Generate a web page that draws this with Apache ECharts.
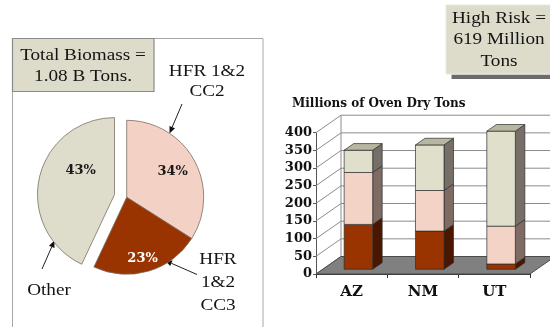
<!DOCTYPE html>
<html>
<head>
<meta charset="utf-8">
<script src="https://cdn.jsdelivr.net/npm/echarts@6/dist/echarts.min.js"></script>
<style>
  html, body { margin: 0; padding: 0; background: #ffffff; }
  #chart { width: 550px; height: 327px; }
</style>
</head>
<body>
<div id="chart"></div>
<script>
// ---------------- data ----------------
const categories = ['AZ', 'NM', 'UT'];
const cc3Values = [127, 108, 15];    // HFR 1&2 CC3 (bottom, dark red)
const cc2Values = [147, 115, 107];   // HFR 1&2 CC2 (middle, pink)
const otherValues = [63, 129, 269];  // Other (top, beige)
const yTicks = [0, 50, 100, 150, 200, 250, 300, 350, 400];

const pieNames = ['HFR 1&2 CC2', 'HFR 1&2 CC3', 'Other'];
const pieShares = [34, 23, 43];

const chartTitle = 'Millions of Oven Dry Tons';
const totalText = 'Total Biomass =\n1.08 B Tons.';
const riskText = 'High Risk =\n619 Million\nTons';
// --------------------------------------

const SERIF = '"DejaVu Serif", "Liberation Serif", serif';
const TIMES = '"Liberation Serif", serif';
const DX = 25, DY = -17.5;      // oblique depth of the 3D box
const F0 = 0.27, F1 = 0.65;     // bar depth fraction (front / back)
const BAR_FRAC = 0.4;
const EDGE = '#2e2e2e';

const palette = {
  cc3: { front: '#993300', side: '#4a1600', top: '#6b2400' },
  cc2: { front: '#f2d3c6', side: '#7e6b64', top: '#bba59c' },
  other: { front: '#dfdfcc', side: '#766e69', top: '#b7b6a0' }
};

function barRender(colors, drawTop) {
  return function (params, api) {
    const i = api.value(0), b = api.value(1), t = api.value(2);
    const pb = api.coord([i, b]);
    const pt = api.coord([i, t]);
    const cw = api.size([1, 0])[0];
    const w = cw * BAR_FRAC;
    const ox = DX * F0, oy = DY * F0;
    const sx = DX * (F1 - F0), sy = DY * (F1 - F0);
    const x0 = pb[0] - w / 2 + ox, x1 = x0 + w;
    const yb = pb[1] + oy, yt = pt[1] + oy;
    const children = [
      { type: 'polygon', shape: { points: [[x1, yb], [x1 + sx, yb + sy], [x1 + sx, yt + sy], [x1, yt]] },
        style: { fill: colors.side, stroke: EDGE, lineWidth: 0.7 } },
      { type: 'rect', shape: { x: x0, y: yt, width: w, height: yb - yt },
        style: { fill: colors.front, stroke: EDGE, lineWidth: 0.7 } }
    ];
    if (drawTop) {
      children.push({ type: 'polygon', shape: { points: [[x0, yt], [x1, yt], [x1 + sx, yt + sy], [x0 + sx, yt + sy]] },
        style: { fill: colors.top, stroke: EDGE, lineWidth: 0.7 } });
    }
    return { type: 'group', children: children };
  };
}

function frameRender(params, api) {
  const cs = params.coordSys;
  const xl = cs.x, xr = cs.x + cs.width;
  const y0 = api.coord([0, yTicks[0]])[1];
  const yTop = api.coord([0, yTicks[yTicks.length - 1]])[1];
  const children = [];
  yTicks.forEach(function (v) {
    const y = api.coord([0, v])[1];
    children.push({ type: 'line', shape: { x1: xl, y1: y, x2: xl + DX, y2: y + DY },
      style: { stroke: '#8c8c8c', lineWidth: 1 } });
    children.push({ type: 'line', shape: { x1: xl + DX, y1: y + DY, x2: xr + DX + 10, y2: y + DY },
      style: { stroke: '#8c8c8c', lineWidth: 1 } });
  });
  children.push({ type: 'line', shape: { x1: xl + DX, y1: y0 + DY, x2: xl + DX, y2: yTop + DY },
    style: { stroke: '#8c8c8c', lineWidth: 1 } });
  children.push({ type: 'polygon', shape: { points: [[xl, y0], [xr, y0], [xr + DX, y0 + DY], [xl + DX, y0 + DY]] },
    style: { fill: '#808080', stroke: '#4a4a4a', lineWidth: 1 } });
  return { type: 'group', children: children };
}

const cc2Base = cc3Values.map(function (v) { return v; });
const otherBase = cc3Values.map(function (v, i) { return v + cc2Values[i]; });

function stackData(base, vals) {
  return vals.map(function (v, i) { return [i, base[i], base[i] + v]; });
}

function arrow(x1, y1, x2, y2) {
  const ang = Math.atan2(y2 - y1, x2 - x1);
  const L = 7, H = 3;
  const bx = x2 - L * Math.cos(ang), by = y2 - L * Math.sin(ang);
  const px = -Math.sin(ang) * H, py = Math.cos(ang) * H;
  return {
    type: 'group',
    z: 12,
    children: [
      { type: 'line', shape: { x1: x1, y1: y1, x2: bx, y2: by }, style: { stroke: '#222', lineWidth: 1 } },
      { type: 'polygon', shape: { points: [[x2, y2], [bx + px, by + py], [bx - px, by - py]] }, style: { fill: '#111' } }
    ]
  };
}

function note(text, x, y, lh) {
  return {
    type: 'text', z: 11, x: x, y: y, scaleX: 1.2,
    style: { text: text, x: 0, y: 0, textAlign: 'center', textVerticalAlign: 'middle',
      font: '16px ' + TIMES, lineHeight: lh, fill: '#141414' }
  };
}

const pieColors = ['#f3d2c5', '#993300', '#deddcc'];
const pieLabelColors = ['#1a1a1a', '#ffffff', '#1a1a1a'];
const pieLabelShift = [[9.6, -6.1], [4.3, 21.4], [6.6, -14.4]];

const chart = echarts.init(document.getElementById('chart'), null, { renderer: 'canvas' });

const option = {
  animation: false,
  backgroundColor: '#ffffff',
  title: {
    text: chartTitle,
    left: 287,
    top: 93,
    textStyle: { fontFamily: SERIF, fontWeight: 'bold', fontSize: 12, color: '#111' }
  },
  grid: { left: 316, right: 20, top: 132.7, bottom: 53, containLabel: false },
  xAxis: {
    type: 'category',
    data: categories,
    boundaryGap: true,
    axisLine: { show: true, lineStyle: { color: '#333', width: 1 } },
    axisTick: { show: true, length: 4, interval: 0, lineStyle: { color: '#333' } },
    axisLabel: { margin: 11, fontFamily: SERIF, fontWeight: 'bold', fontSize: 15, color: '#111' },
    splitLine: { show: false }
  },
  yAxis: {
    type: 'value',
    min: yTicks[0],
    max: yTicks[yTicks.length - 1],
    interval: yTicks[1] - yTicks[0],
    axisLine: { show: true, lineStyle: { color: '#555', width: 1 } },
    axisTick: { show: true, length: 3, lineStyle: { color: '#555' } },
    axisLabel: { margin: 4, fontFamily: SERIF, fontWeight: 'bold', fontSize: 13, color: '#111' },
    splitLine: { show: false }
  },
  series: [
    {
      type: 'custom', name: 'frame', z: 1, silent: true,
      data: [[0, 0]],
      renderItem: frameRender
    },
    {
      type: 'custom', name: 'HFR 1&2 CC3', z: 2, silent: true,
      data: stackData(cc3Values.map(function () { return 0; }), cc3Values),
      renderItem: barRender(palette.cc3, false)
    },
    {
      type: 'custom', name: 'HFR 1&2 CC2', z: 3, silent: true,
      data: stackData(cc2Base, cc2Values),
      renderItem: barRender(palette.cc2, false)
    },
    {
      type: 'custom', name: 'Other', z: 4, silent: true,
      data: stackData(otherBase, otherValues),
      renderItem: barRender(palette.other, true)
    },
    {
      type: 'pie',
      z: 5,
      silent: true,
      center: [126.7, 197.3],
      radius: 77,
      startAngle: 90,
      clockwise: true,
      selectedMode: 'single',
      selectedOffset: 12.5,
      emphasis: { disabled: true },
      itemStyle: { borderColor: '#7d6d63', borderWidth: 0.8 },
      label: {
        show: true,
        position: 'inside',
        fontFamily: SERIF,
        fontWeight: 'bold',
        fontSize: 13,
        formatter: function (p) { return p.value + '%'; }
      },
      labelLine: { show: false },
      labelLayout: function (p) {
        const s = pieLabelShift[p.dataIndex];
        return { dx: s[0], dy: s[1] };
      },
      data: pieShares.map(function (v, i) {
        const item = {
          name: pieNames[i],
          value: v,
          itemStyle: { color: pieColors[i] },
          label: { color: pieLabelColors[i] }
        };
        if (i === 2) {
          item.selected = true;
          item.select = { itemStyle: { color: pieColors[i], borderColor: '#7d6d63', borderWidth: 0.8 } };
        }
        return item;
      })
    }
  ],
  graphic: [
    { type: 'rect', z: 0, shape: { x: 12.5, y: 38.5, width: 250.5, height: 300 },
      style: { fill: 'none', stroke: '#a8a8a8', lineWidth: 1 } },
    { type: 'rect', z: 10, shape: { x: 12.5, y: 38.5, width: 141.5, height: 53 },
      style: { fill: '#dddccb', stroke: '#8a8a8a', lineWidth: 1.2 } },
    note(totalText, 83, 66.5, 21.5),
    note('HFR 1&2\nCC2', 207, 82, 19.5),
    note('HFR\n1&2\nCC3', 218, 283, 23),
    note('Other', 49, 291, 20),
    arrow(182, 104, 169.5, 133.5),
    arrow(197, 274.5, 165, 260.5),
    arrow(42, 269, 54.5, 240.5),
    { type: 'rect', z: 10, shape: { x: 451.5, y: 74.5, width: 110, height: 4.5 },
      style: { fill: '#6b6b6b' } },
    { type: 'rect', z: 10, shape: { x: 446, y: 5, width: 110, height: 69 },
      style: { fill: '#dddccb', stroke: '#e9e8dc', lineWidth: 1 } },
    note(riskText, 499, 40, 21.7)
  ]
};

chart.setOption(option);
</script>
</body>
</html>
